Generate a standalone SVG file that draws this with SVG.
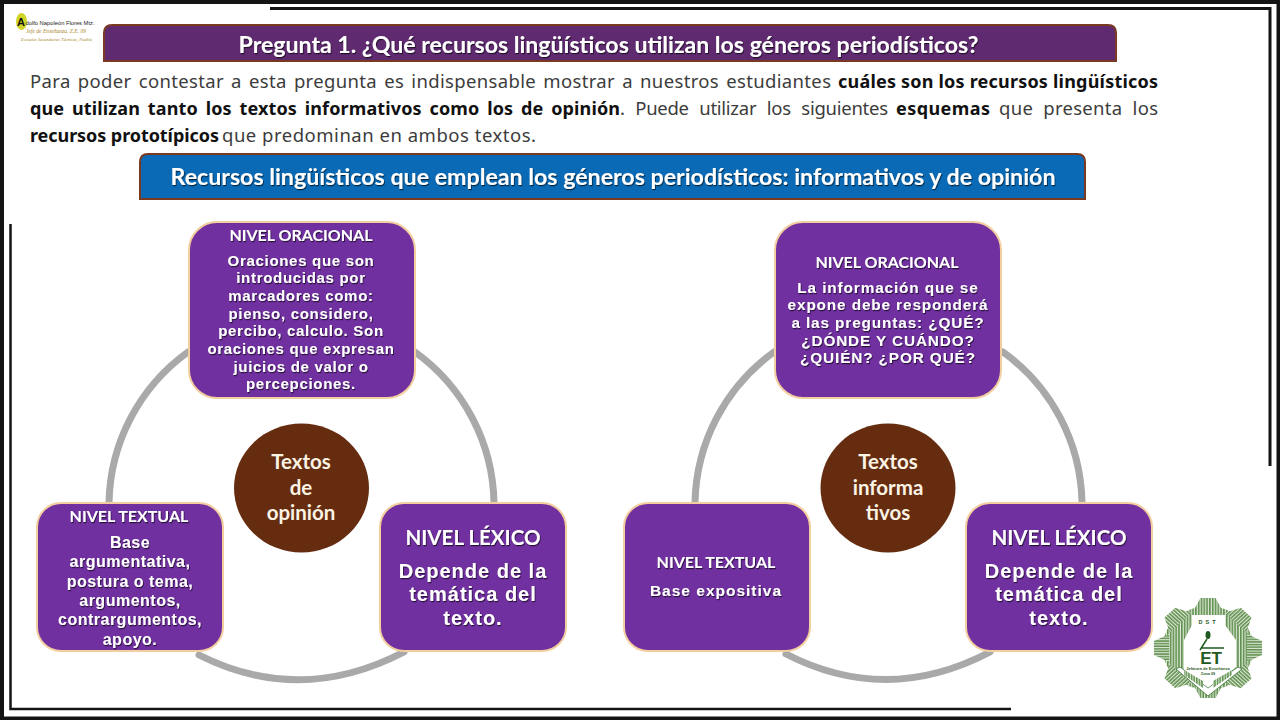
<svg xmlns="http://www.w3.org/2000/svg" width="1280" height="720" viewBox="0 0 1280 720">
<style>
.bar{stroke:#7a3a22;stroke-width:2}
.hd{font-family:Lato,"Open Sans","Liberation Sans",sans-serif;font-weight:700;fill:#fff;text-anchor:middle;filter:url(#ts)}
.p{font-family:"Noto Sans","Open Sans",sans-serif;font-size:18.500px;fill:#3c3c3c}
.pb{font-family:"Noto Sans","Open Sans",sans-serif;font-size:18px;font-weight:700;fill:#111}
.box{fill:#7030a0;stroke:#f3cf9f;stroke-width:2}
.t{font-family:Lato,"Open Sans",sans-serif;font-weight:700;fill:#fff;text-anchor:middle;filter:url(#ts)}
.b{font-family:"Liberation Sans",Arial,sans-serif;font-weight:700;fill:#fff;text-anchor:middle;filter:url(#ts)}
.c{font-family:Lato,"Open Sans",sans-serif;font-weight:700;font-size:20.500px;fill:#fbf3e4;text-anchor:middle}
.hub{fill:#652c10}
.arc{fill:none;stroke:#a9a9a9;stroke-width:7;stroke-linecap:round}
.fr{fill:none;stroke:#141414}
.g{font-family:"Liberation Sans",sans-serif;font-weight:700;fill:#1f5a22;text-anchor:middle}
.l{font-family:"Liberation Sans",sans-serif}
.s{font-family:"Liberation Serif",serif;font-style:italic;fill:#a8862a}
</style>
<defs>
<filter id="ts" x="-10%" y="-30%" width="120%" height="170%"><feDropShadow dx="0.8" dy="1.2" stdDeviation="0.7" flood-color="#000" flood-opacity="0.65"/></filter>
<pattern id="st" width="2.600" height="4" patternUnits="userSpaceOnUse"><rect width="2.600" height="4" fill="#dfe9d8"/><rect width="1.500" height="4" fill="#5f8f4e"/></pattern>
<path id="tooth" d="M1194 612L1201 598H1215L1222 612Z"/>
</defs>
<rect width="1280" height="720" fill="#fff"/>
<g id="frame">
<path class="fr" stroke-width="4" d="M2 0V720M0 2H1280M1278.500 0V720"/>
<path class="fr" stroke-width="4" d="M0 718.500H1280"/>
<path class="fr" stroke-width="3" d="M270 8.500H1270V466"/>
<path class="fr" stroke-width="2.500" d="M10.500 224V709H1011"/>
</g>
<g id="logo-left">
<ellipse cx="21.500" cy="21.500" rx="5.500" ry="8.500" fill="#cfd426"/>
<text class="l" x="17" y="26" font-weight="700" font-size="11" fill="#111">A</text>
<text class="l" x="25.500" y="25" font-size="6" fill="#222" textLength="69" lengthAdjust="spacingAndGlyphs">dolfo Napoleón Flores Mtz.</text>
<text class="s" x="26" y="33" font-size="5.500" textLength="60" lengthAdjust="spacingAndGlyphs">Jefe de Enseñanza. Z.E. 09</text>
<text class="s" x="21" y="41" font-size="5" textLength="71" lengthAdjust="spacingAndGlyphs">Escuelas Secundarias Técnicas, Puebla</text>
</g>
<g id="title-bar">
<path class="bar" fill="#5f2a70" d="M104 61V33Q104 25 112 25H1108Q1116 25 1116 33V61Z"/>
<text class="hd" x="608.500" y="53" font-size="23.100">Pregunta 1. ¿Qué recursos lingüísticos utilizan los géneros periodísticos?</text>
</g>
<g id="intro">
<text class="p" x="30" y="88" word-spacing="2" textLength="801">Para poder contestar a esta pregunta es indispensable mostrar a nuestros estudiantes</text>
<text class="pb" x="838" y="88" textLength="320">cuáles son los recursos lingüísticos</text>
<text class="pb" x="30" y="115" word-spacing="3" textLength="590">que utilizan tanto los textos informativos como los de opinión</text>
<text class="p" x="620" y="115" word-spacing="6" textLength="268">. Puede utilizar los siguientes</text>
<text class="pb" x="896" y="115" textLength="94">esquemas</text>
<text class="p" x="999" y="115" word-spacing="5" textLength="159">que presenta los</text>
<text class="pb" x="30" y="142" textLength="189">recursos prototípicos</text>
<text class="p" x="222" y="142" textLength="314">que predominan en ambos textos.</text>
</g>
<g id="subtitle-bar">
<path class="bar" fill="#0a6ab5" d="M140 199V162Q140 154 148 154H1077Q1085 154 1085 162V199Z"/>
<text class="hd" x="613" y="185" font-size="23.200">Recursos lingüísticos que emplean los géneros periodísticos: informativos y de opinión</text>
</g>
<g id="connectors">
<path class="arc" d="M188 352A190 190 0 0 0 109 503"/>
<path class="arc" d="M415 352A190 190 0 0 1 494 503"/>
<path class="arc" d="M199 655Q300 706 404 652"/>
<path class="arc" d="M774 352A190 190 0 0 0 695 503"/>
<path class="arc" d="M1003 352A190 190 0 0 1 1082 502"/>
<path class="arc" d="M786 654Q887 706 990 652"/>
</g>
<g id="hub-opinion">
<ellipse class="hub" cx="301.500" cy="488" rx="67.500" ry="64.500"/>
<text class="c" x="301" y="469">Textos</text><text class="c" x="301" y="495">de</text><text class="c" x="301" y="520">opinión</text>
</g>
<g id="hub-informativos">
<ellipse class="hub" cx="888" cy="488" rx="67.500" ry="64.500"/>
<text class="c" x="888" y="469">Textos</text><text class="c" x="888" y="495">informa</text><text class="c" x="888" y="520">tivos</text>
</g>
<g id="op-oracional">
<rect class="box" x="189" y="222" width="226" height="176" rx="28"/>
<text class="t" x="301" y="241" font-size="16">NIVEL ORACIONAL</text>
<g font-size="15" letter-spacing="0.700">
<text class="b" x="301" y="266">Oraciones que son</text>
<text class="b" x="301" y="283">introducidas por</text>
<text class="b" x="301" y="301">marcadores como:</text>
<text class="b" x="301" y="319">pienso, considero,</text>
<text class="b" x="301" y="336">percibo, calculo. Son</text>
<text class="b" x="301" y="354">oraciones que expresan</text>
<text class="b" x="301" y="372">juicios de valor o</text>
<text class="b" x="301" y="389">percepciones.</text>
</g>
</g>
<g id="op-textual">
<rect class="box" x="37" y="503" width="186" height="148" rx="24"/>
<text class="t" x="129" y="522" font-size="16">NIVEL TEXTUAL</text>
<g font-size="16" letter-spacing="0.500">
<text class="b" x="130" y="548">Base</text>
<text class="b" x="130" y="567">argumentativa,</text>
<text class="b" x="130" y="587">postura  o tema,</text>
<text class="b" x="130" y="606">argumentos,</text>
<text class="b" x="130" y="625">contrargumentos,</text>
<text class="b" x="130" y="645">apoyo.</text>
</g>
</g>
<g id="op-lexico">
<rect class="box" x="380" y="503" width="186" height="148" rx="24"/>
<text class="t" x="473" y="545" font-size="20.500">NIVEL LÉXICO</text>
<g font-size="20" letter-spacing="1">
<text class="b" x="473" y="578">Depende de la</text>
<text class="b" x="473" y="601">temática del</text>
<text class="b" x="473" y="625">texto.</text>
</g>
</g>
<g id="in-oracional">
<rect class="box" x="775" y="222" width="226" height="176" rx="28"/>
<text class="t" x="887" y="268" font-size="16">NIVEL ORACIONAL</text>
<g font-size="15.300" letter-spacing="0.900">
<text class="b" x="888" y="293">La información que se</text>
<text class="b" x="888" y="310">expone debe responderá</text>
<text class="b" x="888" y="328">a las preguntas: ¿QUÉ?</text>
<text class="b" x="888" y="346">¿DÓNDE Y CUÁNDO?</text>
<text class="b" x="888" y="363">¿QUIÉN? ¿POR QUÉ?</text>
</g>
</g>
<g id="in-textual">
<rect class="box" x="624" y="503" width="186" height="148" rx="24"/>
<text class="t" x="716" y="568" font-size="16">NIVEL TEXTUAL</text>
<text class="b" font-size="15.500" letter-spacing="1" x="716" y="596">Base expositiva</text>
</g>
<g id="in-lexico">
<rect class="box" x="966" y="503" width="186" height="148" rx="24"/>
<text class="t" x="1059" y="545" font-size="20.500">NIVEL LÉXICO</text>
<g font-size="20" letter-spacing="1">
<text class="b" x="1059" y="578">Depende de la</text>
<text class="b" x="1059" y="601">temática del</text>
<text class="b" x="1059" y="625">texto.</text>
</g>
</g>
<g id="logo-gear">
<g transform="translate(1208 648) scale(1.080 1) translate(-1208 -648)" fill="url(#st)">
<circle cx="1208" cy="648" r="42"/>
<use href="#tooth"/>
<use href="#tooth" transform="rotate(45 1208 648)"/>
<use href="#tooth" transform="rotate(90 1208 648)"/>
<use href="#tooth" transform="rotate(135 1208 648)"/>
<use href="#tooth" transform="rotate(180 1208 648)"/>
<use href="#tooth" transform="rotate(225 1208 648)"/>
<use href="#tooth" transform="rotate(270 1208 648)"/>
<use href="#tooth" transform="rotate(315 1208 648)"/>
</g>
<path fill="#fff" d="M1192 615H1225V625L1236 640V667L1208 690L1184 670V640L1192 625Z"/>
<path fill="#fff" stroke="#2e6b2a" stroke-width="0.700" d="M1176 669L1180 667L1208 688L1238 667L1242 669L1208 696Z"/>
<path fill="url(#st)" d="M1184 675L1203 688V681L1184 670ZM1232 675L1213 688V681L1232 670Z"/>
<text class="g" x="1208.500" y="624" font-size="5.500" letter-spacing="3">DST</text>
<ellipse cx="1208" cy="635" rx="2.500" ry="4" fill="#1f5a22"/>
<path d="M1207 639L1200 650M1202 648H1224" fill="none" stroke="#1f5a22" stroke-width="1.500"/>
<text class="g" x="1211" y="664" font-size="17">ET</text>
<text class="g" x="1208" y="669.500" font-size="4">Jefatura de Enseñanza</text>
<text class="g" x="1208" y="674.500" font-size="3.800">Zona 09</text>
</g>
</svg>
